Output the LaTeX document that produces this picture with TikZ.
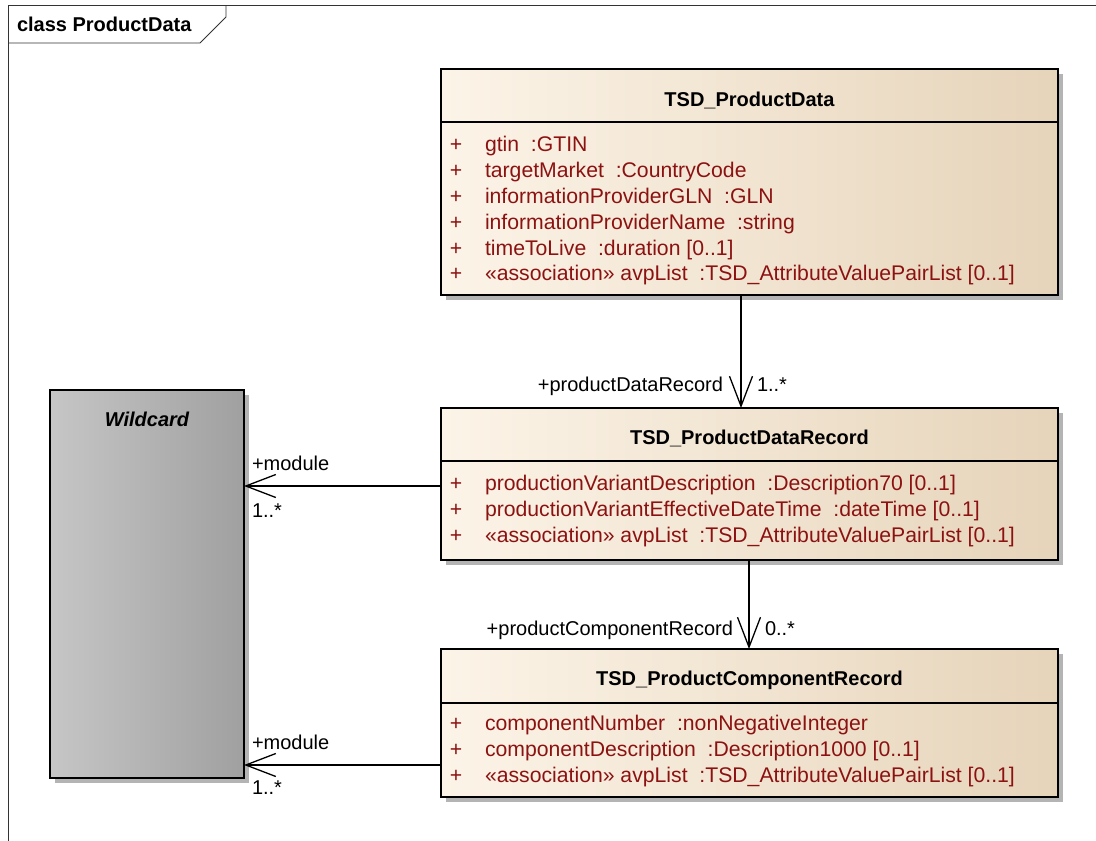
\documentclass[tikz,border=0pt]{standalone}
\usepackage{fontspec}
\setmainfont{Liberation Sans}
\usetikzlibrary{arrows.meta,calc,shadows}
\definecolor{attrc}{RGB}{140,18,18}
\definecolor{creamA}{RGB}{252,244,232}
\definecolor{creamB}{RGB}{247,235,218}
\definecolor{creamC}{RGB}{230,212,186}
\definecolor{wildA}{RGB}{198,198,198}
\definecolor{wildB}{RGB}{184,184,184}
\definecolor{wildC}{RGB}{160,160,160}
\definecolor{shadowc}{RGB}{180,180,180}
\tikzset{
  txt/.style={font=\fontsize{20}{24}\selectfont, inner sep=0pt, outer sep=0pt},
  attr/.style={txt, font=\fontsize{21.2}{25}\selectfont, text=attrc, anchor=base west},
  plus/.style={txt, font=\fontsize{21.2}{25}\selectfont, text=attrc, anchor=base},
  lbl/.style={txt, text=black},
  ctitle/.style={txt, font=\fontsize{20}{24}\selectfont\bfseries},
  classbox/.style={draw=black, line width=1.6pt, rectangle, anchor=north west,
    inner sep=0pt, outer sep=0pt, left color=creamA, middle color=creamB, right color=creamC,
    drop shadow={shadow xshift=5pt, shadow yshift=-5pt, fill=shadowc, opacity=1}},
  wildbox/.style={draw=black, line width=1.6pt, rectangle, anchor=north west,
    inner sep=0pt, outer sep=0pt, left color=wildA, middle color=wildB, right color=wildC,
    drop shadow={shadow xshift=5pt, shadow yshift=-5pt, fill=shadowc, opacity=1}},
  sepline/.style={line width=1.6pt},
  assoc/.style={line width=1.3pt, -{Straight Barb[length=30pt,width=23pt]}},
  frameline/.style={line width=0.9pt, draw=black!80}
}
\begin{document}
\begin{tikzpicture}[x=1pt,y=-1pt]
\useasboundingbox[fill=white] (0,0) rectangle (1096,841);

% frame
\draw[frameline] (8,841) -- (8,5) -- (1096,5);
\draw[frameline] (8,43) -- (200,43) -- (226,17) -- (226,5);
\node[txt, font=\fontsize{20}{24}\selectfont\bfseries, anchor=base west] (frm) at (17,31) {class ProductData};

% Wildcard
\node[wildbox, minimum width=194pt, minimum height=388pt] (wc) at (50,390) {};
\node[txt, font=\fontsize{20}{24}\selectfont\bfseries\itshape] (wct) at (147,419) {Wildcard};

% TSD_ProductData
\node[classbox, minimum width=617pt, minimum height=226pt] (pd) at (441,69) {};
\node[ctitle] (pdt) at (749.5,100) {TSD\_ProductData};
\draw[sepline] (441,122) -- (1058,122);
\node[plus] (pdp1) at (456,151) {+};
\node[attr] (pda1) at (485,151) {gtin\ \ :GTIN};
\node[plus] (pdp2) at (456,177) {+};
\node[attr] (pda2) at (485,177) {targetMarket\ \ :CountryCode};
\node[plus] (pdp3) at (456,203) {+};
\node[attr] (pda3) at (485,203) {informationProviderGLN\ \ :GLN};
\node[plus] (pdp4) at (456,229) {+};
\node[attr] (pda4) at (485,229) {informationProviderName\ \ :string};
\node[plus] (pdp5) at (456,255) {+};
\node[attr] (pda5) at (485,255) {timeToLive\ \ :duration [0..1]};
\node[plus] (pdp6) at (456,280) {+};
\node[attr] (pda6) at (485,280) {«association» avpList\ \ :TSD\_AttributeValuePairList [0..1]};

% TSD_ProductDataRecord
\node[classbox, minimum width=617pt, minimum height=152pt] (pdr) at (441,408) {};
\node[ctitle] (pdrt) at (749.5,438) {TSD\_ProductDataRecord};
\draw[sepline] (441,461) -- (1058,461);
\node[plus] (rp1) at (456,490) {+};
\node[attr] (ra1) at (485,490) {productionVariantDescription\ \ :Description70 [0..1]};
\node[plus] (rp2) at (456,516) {+};
\node[attr] (ra2) at (485,516) {productionVariantEffectiveDateTime\ \ :dateTime [0..1]};
\node[plus] (rp3) at (456,542) {+};
\node[attr] (ra3) at (485,542) {«association» avpList\ \ :TSD\_AttributeValuePairList [0..1]};

% TSD_ProductComponentRecord
\node[classbox, minimum width=617pt, minimum height=148pt] (pcr) at (441,649) {};
\node[ctitle] (pcrt) at (749.5,680) {TSD\_ProductComponentRecord};
\draw[sepline] (441,703) -- (1058,703);
\node[plus] (cp1) at (456,730) {+};
\node[attr] (ca1) at (485,730) {componentNumber\ \ :nonNegativeInteger};
\node[plus] (cp2) at (456,756) {+};
\node[attr] (ca2) at (485,756) {componentDescription\ \ :Description1000 [0..1]};
\node[plus] (cp3) at (456,782) {+};
\node[attr] (ca3) at (485,782) {«association» avpList\ \ :TSD\_AttributeValuePairList [0..1]};

% connector guide coordinates
\coordinate (v1) at (741,0);
\coordinate (v2) at (749,0);
\coordinate (h1) at (0,486);
\coordinate (h2) at (0,765);

% connectors
\draw[assoc] (pd.south -| v1) -- (pdr.north -| v1);
\draw[assoc] (pdr.south -| v2) -- (pcr.north -| v2);
\draw[assoc] (pdr.west |- h1) -- (wc.east |- h1);
\draw[assoc] (pcr.west |- h2) -- (wc.east |- h2);

% role labels
\node[lbl, anchor=base east] (l1) at (723,391) {+productDataRecord};
\node[lbl, anchor=base west] (m1) at (757,391) {1..*};
\node[lbl, anchor=base east] (l2) at (733,635) {+productComponentRecord};
\node[lbl, anchor=base west] (m2) at (765,635) {0..*};
\node[lbl, anchor=base west] (l3) at (252,470) {+module};
\node[lbl, anchor=base west] (m3) at (252,517) {1..*};
\node[lbl, anchor=base west] (l4) at (252,749) {+module};
\node[lbl, anchor=base west] (m4) at (252,794) {1..*};
\end{tikzpicture}
\end{document}
